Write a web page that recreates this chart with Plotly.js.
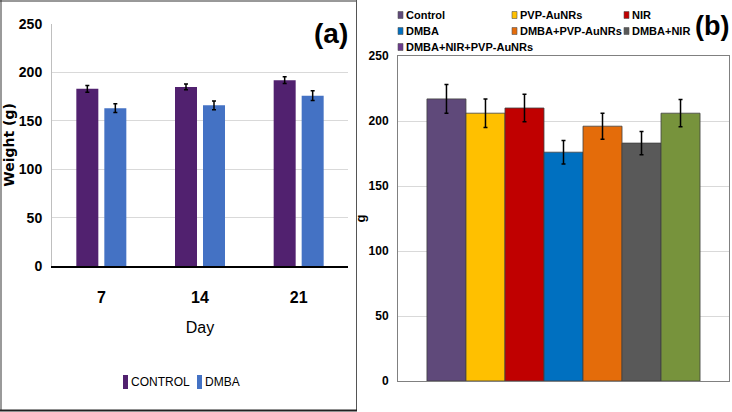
<!DOCTYPE html>
<html>
<head>
<meta charset="utf-8">
<script src="https://cdn.plot.ly/plotly-3.0.1.min.js"></script>
<style>html,body{margin:0;padding:0;background:#fff;}#chart{width:732px;height:412px;}</style>
</head>
<body>
<div id="chart"></div>
<script>
// ---- Panel (a) data ----
const dayCats = ['7', '14', '21'];
const seriesA = ['CONTROL', 'DMBA'];
const controlWeight = [183, 185, 192];
const controlErr = [3.5, 3, 3.5];
const dmbaWeight = [163, 166, 176];
const dmbaErr = [4.5, 4.5, 5];
const colorsA = ['#51216F', '#4472C4'];

// ---- Panel (b) data ----
const groupNames = ['Control', 'PVP-AuNRs', 'NIR', 'DMBA', 'DMBA+PVP-AuNRs', 'DMBA+NIR', 'DMBA+NIR+PVP-AuNRs'];
const groupWeight = [217, 206, 210, 176, 196, 183, 206];
const groupErr = [11, 11, 10.5, 9, 10, 9, 10.5];
const groupColors = ['#5F497A', '#FFC000', '#C00000', '#0070C0', '#E46C0A', '#595959', '#77933C'];
const legendSwatchB = ['#5F497A', '#FFC000', '#C00000', '#0070C0', '#E46C0A', '#595959', '#6B3A8C'];

const W = 732, H = 412;
const px = v => v / W;
const py = v => 1 - v / H;
const NARROW = 'Liberation Sans Narrow, Arial Narrow, Liberation Sans, Arial, sans-serif';

const traces = [];
const catPx = (348 - 52) / 3;
const barW = 22 / catPx;
const valuesA = [controlWeight, dmbaWeight];
const errsA = [controlErr, dmbaErr];
const offsetsA = [-(14 + 11) / catPx, (14 - 11) / catPx];
seriesA.forEach((n, i) => {
  traces.push({
    type: 'bar', x: dayCats, y: valuesA[i], name: n, xaxis: 'x', yaxis: 'y',
    marker: {color: colorsA[i]}, width: barW, offset: offsetsA[i],
    error_y: {type: 'data', array: errsA[i], visible: true, color: '#000', thickness: 1.5, width: 2}
  });
});
groupNames.forEach((n, i) => {
  traces.push({
    type: 'bar', x: ['g'], y: [groupWeight[i]], name: n, xaxis: 'x2', yaxis: 'y2',
    marker: {color: groupColors[i], line: {color: '#404040', width: 0.8}},
    error_y: {type: 'data', array: [groupErr[i]], visible: true, color: '#000', thickness: 1.5, width: 2}
  });
});

// ---- legends (drawn as swatch shapes + text annotations) ----
const shapes = [];
const annotations = [];
// panel (a) legend
const legAX = [123, 197];
seriesA.forEach((n, i) => {
  const x0 = legAX[i];
  shapes.push({type: 'rect', xref: 'paper', yref: 'paper', x0: px(x0), x1: px(x0 + 5), y0: py(389), y1: py(375),
    fillcolor: colorsA[i], line: {width: 0}});
  annotations.push({xref: 'paper', yref: 'paper', x: px(x0 + 6), y: py(382), xanchor: 'left', yanchor: 'middle',
    text: n, showarrow: false, font: {family: NARROW, size: 12, color: '#000'}});
});
// panel (b) legend: 3 columns
const legBX = [398, 512, 624];
const legBY = [15, 31, 47];
groupNames.forEach((n, i) => {
  const x0 = legBX[i % 3], yc = legBY[Math.floor(i / 3)];
  shapes.push({type: 'rect', xref: 'paper', yref: 'paper', x0: px(x0), x1: px(x0 + 5), y0: py(yc + 3.5), y1: py(yc - 3.5),
    fillcolor: legendSwatchB[i], line: {color: '#555', width: 0.6}});
  annotations.push({xref: 'paper', yref: 'paper', x: px(x0 + 6), y: py(yc), xanchor: 'left', yanchor: 'middle',
    text: n, showarrow: false, font: {family: NARROW, size: 11, color: '#000', weight: 'bold'}});
});
annotations.push(
  {xref: 'paper', yref: 'paper', x: px(331), y: py(34), xanchor: 'center', yanchor: 'middle', text: '<b>(a)</b>', showarrow: false,
   font: {family: 'Liberation Sans, Arial, sans-serif', size: 28, color: '#000'}},
  {xref: 'paper', yref: 'paper', x: px(712), y: py(26), xanchor: 'center', yanchor: 'middle', text: '<b>(b)</b>', showarrow: false,
   font: {family: 'Liberation Sans, Arial, sans-serif', size: 27, color: '#000'}}
);
// panel (a) frame
shapes.push(
  {type: 'line', xref: 'paper', yref: 'paper', x0: px(1), x1: px(1), y0: py(0), y1: py(411), line: {color: '#9a9a9a', width: 2}},
  {type: 'line', xref: 'paper', yref: 'paper', x0: px(0), x1: px(357), y0: py(1), y1: py(1), line: {color: '#333', width: 1}},
  {type: 'line', xref: 'paper', yref: 'paper', x0: px(356.5), x1: px(356.5), y0: py(0), y1: py(411), line: {color: '#555', width: 1}},
  {type: 'line', xref: 'paper', yref: 'paper', x0: px(0), x1: px(357), y0: py(410.5), y1: py(410.5), line: {color: '#222', width: 2}}
);

const layout = {
  width: W, height: H,
  margin: {l: 0, r: 0, t: 0, b: 0},
  paper_bgcolor: '#fff', plot_bgcolor: 'rgba(0,0,0,0)',
  barmode: 'group', bargap: 0.175, bargroupgap: 0,
  showlegend: false,
  font: {family: NARROW, color: '#000'},
  xaxis: {
    domain: [px(52), px(348)], anchor: 'y', type: 'category',
    showline: true, linecolor: '#000', linewidth: 1.5, ticks: '', showgrid: false,
    ticklabelstandoff: 16,
    tickfont: {family: NARROW, size: 16, color: '#000', weight: 'bold'},
    title: {text: 'Day', font: {family: NARROW, size: 16, color: '#000'}, standoff: 17}
  },
  yaxis: {
    domain: [py(266), py(24)], anchor: 'x', range: [0, 250], dtick: 50,
    showline: true, linecolor: '#bfbfbf', linewidth: 1, gridcolor: '#d9d9d9', zeroline: false,
    ticks: '', ticklabelstandoff: 6,
    tickfont: {family: NARROW, size: 14, color: '#000', weight: 'bold'},
    title: {text: 'Weight (g)', font: {family: 'DejaVu Sans', size: 14, color: '#000', weight: 'bold'}, standoff: 0}
  },
  xaxis2: {
    domain: [px(398), px(729)], anchor: 'y2', type: 'category',
    showline: true, mirror: true, linecolor: '#808080', linewidth: 1,
    showticklabels: false, ticks: '', showgrid: false
  },
  yaxis2: {
    domain: [py(381), py(56)], anchor: 'x2', range: [0, 250], dtick: 50,
    showline: true, mirror: true, linecolor: '#808080', linewidth: 1,
    gridcolor: '#d9d9d9', zeroline: false, ticks: '', ticklabelstandoff: 6,
    tickfont: {family: NARROW, size: 12, color: '#000', weight: 'bold'},
    title: {text: 'g', font: {family: NARROW, size: 13, color: '#000', weight: 'bold'}, standoff: 0}
  },
  annotations: annotations,
  shapes: shapes
};

Plotly.newPlot('chart', traces, layout, {displayModeBar: false, staticPlot: true});
</script>
</body>
</html>
